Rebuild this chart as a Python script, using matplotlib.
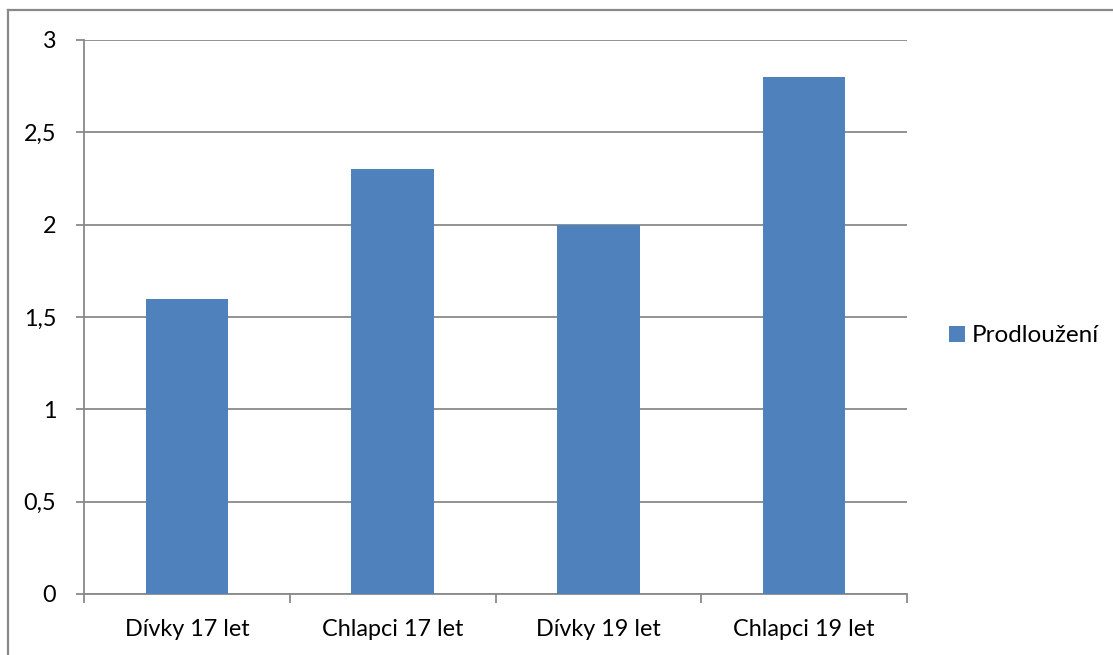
import matplotlib
matplotlib.use("Agg")
import matplotlib.pyplot as plt
from matplotlib.lines import Line2D
from matplotlib.ticker import FuncFormatter

categories = ["Dívky 17 let", "Chlapci 17 let", "Dívky 19 let", "Chlapci 19 let"]
values = [1.6, 2.3, 2.0, 2.8]
series_name = "Prodloužení"
y_ticks = [0, 0.5, 1, 1.5, 2, 2.5, 3]

W, H = 1113, 655
plt.rcParams["font.family"] = ["Lato", "DejaVu Sans"]

fig = plt.figure(figsize=(W / 100, H / 100), dpi=100)
grey = "#898989"

# chart frame (top and left edges)
fig.add_artist(Line2D([8 / W, 1.01], [1 - 10 / H, 1 - 10 / H], color=grey, lw=1.6))
fig.add_artist(Line2D([8 / W, 8 / W], [1 - 10 / H, -0.01], color=grey, lw=1.6))

left, right, top, bottom = 84, 907, 40, 594
ax = fig.add_axes([left / W, 1 - bottom / H, (right - left) / W, (bottom - top) / H])

x = list(range(len(categories)))
ax.bar(x, values, width=0.4, color="#4F81BD", label=series_name, zorder=3)

ax.set_xlim(-0.5, len(categories) - 0.5)
ax.set_ylim(0, 3)
ax.set_yticks(y_ticks)
ax.yaxis.set_major_formatter(FuncFormatter(lambda v, p: f"{v:g}".replace(".", ",")))
ax.yaxis.grid(True, color=grey, lw=1.3, zorder=0)
ax.set_axisbelow(True)

ax.set_xticks(x)
ax.set_xticklabels(categories)
ax.set_xticks([i - 0.5 for i in range(len(categories) + 1)], minor=True)
ax.tick_params(axis="x", which="major", length=0, pad=18, labelsize=16.8)
ax.tick_params(axis="x", which="minor", length=6.5, width=1.3, color=grey, direction="out")
ax.tick_params(axis="y", length=6, width=1.3, color=grey, pad=14, labelsize=16.8)

for s in ["top", "right"]:
    ax.spines[s].set_visible(False)
for s in ["left", "bottom"]:
    ax.spines[s].set_color(grey)
    ax.spines[s].set_linewidth(1.3)

leg = fig.legend(loc="center left", bbox_to_anchor=(949 / W, 1 - 336 / H), frameon=False,
                 fontsize=17.5, handlelength=0.65, handleheight=0.65, handletextpad=0.3,
                 borderaxespad=0, borderpad=0)

fig.savefig("out.png", dpi=100)
